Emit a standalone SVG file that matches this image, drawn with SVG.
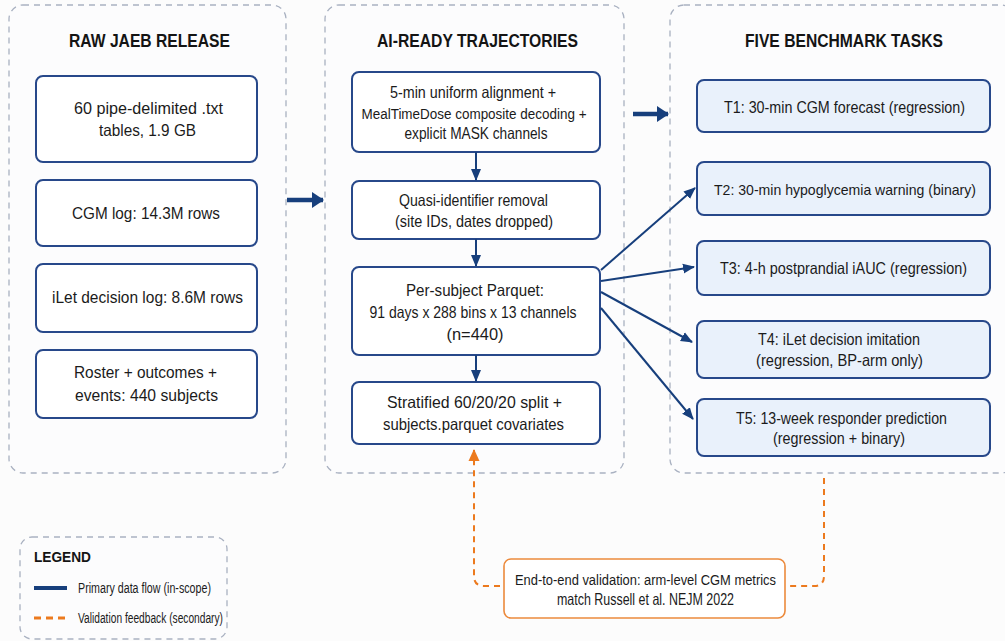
<svg xmlns="http://www.w3.org/2000/svg" width="1005" height="641" viewBox="0 0 1005 641">
<style>
.panel{fill:#fcfcfd;stroke:#a9b1c1;stroke-width:1.3;stroke-dasharray:6 5}
.box{fill:#ffffff;stroke:#27488a;stroke-width:2}
.task{fill:#e9f1fb;stroke:#27488a;stroke-width:2}
.val{fill:#ffffff;stroke:#ec8a3c;stroke-width:1.6}
.t{font-family:"Liberation Sans",Arial,sans-serif;font-size:16.5px;fill:#1b1b1b;text-anchor:middle;dominant-baseline:central}
.h{font-family:"Liberation Sans",Arial,sans-serif;font-size:18.5px;font-weight:bold;fill:#141414;text-anchor:middle;dominant-baseline:central}
.lg{font-family:"Liberation Sans",Arial,sans-serif;font-size:14px;fill:#1b1b1b;dominant-baseline:central}
.flow{fill:none;stroke:#173f7c;stroke-width:2}
.thick{fill:none;stroke:#173f7c;stroke-width:4.5}
.fb{fill:none;stroke:#ec7a1e;stroke-width:2;stroke-dasharray:6 5}
</style>
<defs>
<marker id="ah" markerUnits="userSpaceOnUse" markerWidth="12" markerHeight="12" viewBox="0 0 12 12" refX="11" refY="6" orient="auto"><path d="M0,1 L12,6 L0,11 Z" fill="#173f7c"/></marker>
<marker id="ahB" markerUnits="userSpaceOnUse" markerWidth="12" markerHeight="18" viewBox="0 0 12 18" refX="11" refY="9" orient="auto"><path d="M0,1 L12,9 L0,17 Z" fill="#173f7c"/></marker>
<marker id="ahO" markerUnits="userSpaceOnUse" markerWidth="12" markerHeight="12" viewBox="0 0 12 12" refX="11" refY="6" orient="auto"><path d="M0,0.5 L12,6 L0,11.5 Z" fill="#ec7a1e"/></marker>
</defs>
<rect width="1005" height="641" fill="#fcfcfc"/>

<g id="panel-raw">
<rect class="panel" x="9" y="5" width="277" height="468" rx="14"/>
<text class="h" x="149.5" y="40" textLength="161" lengthAdjust="spacingAndGlyphs">RAW JAEB RELEASE</text>
</g>
<g id="panel-ai">
<rect class="panel" x="325" y="5" width="299" height="468" rx="14"/>
<text class="h" x="477.5" y="40" textLength="201" lengthAdjust="spacingAndGlyphs">AI-READY TRAJECTORIES</text>
</g>
<g id="panel-tasks">
<rect class="panel" x="670" y="5" width="345" height="468" rx="14"/>
<text class="h" x="844" y="40" textLength="198" lengthAdjust="spacingAndGlyphs">FIVE BENCHMARK TASKS</text>
</g>

<g id="raw1"><rect class="box" x="36" y="76" width="221" height="86" rx="7"/><text class="t" x="148.5" y="108" textLength="149" lengthAdjust="spacingAndGlyphs">60 pipe-delimited .txt</text><text class="t" x="147.5" y="130" textLength="97" lengthAdjust="spacingAndGlyphs">tables, 1.9 GB</text></g>
<g id="raw2"><rect class="box" x="36" y="180" width="221" height="66" rx="7"/><text class="t" x="146" y="213" textLength="148" lengthAdjust="spacingAndGlyphs">CGM log: 14.3M rows</text></g>
<g id="raw3"><rect class="box" x="36" y="264" width="221" height="68" rx="7"/><text class="t" x="147.5" y="297" textLength="191" lengthAdjust="spacingAndGlyphs">iLet decision log: 8.6M rows</text></g>
<g id="raw4"><rect class="box" x="36" y="350" width="221" height="68" rx="7"/><text class="t" x="145.5" y="372" textLength="143" lengthAdjust="spacingAndGlyphs">Roster + outcomes +</text><text class="t" x="146.5" y="395" textLength="143" lengthAdjust="spacingAndGlyphs">events: 440 subjects</text></g>

<g id="ai1"><rect class="box" x="352" y="72" width="248" height="80" rx="7"/><text class="t" x="473" y="92" textLength="166" lengthAdjust="spacingAndGlyphs">5-min uniform alignment +</text><text class="t" x="474" y="113" style="font-size:15.5px" textLength="225" lengthAdjust="spacingAndGlyphs">MealTimeDose composite decoding +</text><text class="t" x="476" y="133" textLength="143" lengthAdjust="spacingAndGlyphs">explicit MASK channels</text></g>
<g id="ai2"><rect class="box" x="352" y="181" width="248" height="58" rx="7"/><text class="t" x="473.5" y="200" textLength="149" lengthAdjust="spacingAndGlyphs">Quasi-identifier removal</text><text class="t" x="474" y="221" textLength="158" lengthAdjust="spacingAndGlyphs">(site IDs, dates dropped)</text></g>
<g id="ai3"><rect class="box" x="352" y="267" width="248" height="88" rx="7"/><text class="t" x="475" y="290" textLength="138" lengthAdjust="spacingAndGlyphs">Per-subject Parquet:</text><text class="t" x="473" y="312" textLength="207" lengthAdjust="spacingAndGlyphs">91 days x 288 bins x 13 channels</text><text class="t" x="475" y="334" textLength="57" lengthAdjust="spacingAndGlyphs">(n=440)</text></g>
<g id="ai4"><rect class="box" x="352" y="382" width="248" height="62" rx="7"/><text class="t" x="474.5" y="402" textLength="175" lengthAdjust="spacingAndGlyphs">Stratified 60/20/20 split +</text><text class="t" x="473.5" y="424" textLength="181" lengthAdjust="spacingAndGlyphs">subjects.parquet covariates</text></g>

<g id="t1"><rect class="task" x="697" y="80" width="293" height="52" rx="7"/><text class="t" x="844.5" y="107" textLength="241" lengthAdjust="spacingAndGlyphs">T1: 30-min CGM forecast (regression)</text></g>
<g id="t2"><rect class="task" x="697" y="162" width="293" height="53" rx="7"/><text class="t" x="845" y="189" style="font-size:15px" textLength="262" lengthAdjust="spacingAndGlyphs">T2: 30-min hypoglycemia warning (binary)</text></g>
<g id="t3"><rect class="task" x="697" y="241" width="293" height="54" rx="7"/><text class="t" x="843.5" y="268" textLength="247" lengthAdjust="spacingAndGlyphs">T3: 4-h postprandial iAUC (regression)</text></g>
<g id="t4"><rect class="task" x="697" y="321" width="293" height="57" rx="7"/><text class="t" x="839" y="339" textLength="162" lengthAdjust="spacingAndGlyphs">T4: iLet decision imitation</text><text class="t" x="839.5" y="360" textLength="167" lengthAdjust="spacingAndGlyphs">(regression, BP-arm only)</text></g>
<g id="t5"><rect class="task" x="697" y="399" width="293" height="57" rx="7"/><text class="t" x="841.5" y="418" textLength="211" lengthAdjust="spacingAndGlyphs">T5: 13-week responder prediction</text><text class="t" x="839" y="438" textLength="132" lengthAdjust="spacingAndGlyphs">(regression + binary)</text></g>

<g id="validation"><rect class="val" x="504" y="559" width="281" height="59" rx="7"/><text class="t" x="645.5" y="579" style="font-size:15.5px" textLength="261" lengthAdjust="spacingAndGlyphs">End-to-end validation: arm-level CGM metrics</text><text class="t" x="645.5" y="599" textLength="177" lengthAdjust="spacingAndGlyphs">match Russell et al. NEJM 2022</text></g>

<g id="connectors">
<line class="thick" x1="287" y1="200" x2="323" y2="200" marker-end="url(#ahB)"/>
<line class="thick" x1="633" y1="114" x2="668" y2="114" marker-end="url(#ahB)"/>
<line class="flow" x1="476" y1="152" x2="476" y2="180" marker-end="url(#ah)"/>
<line class="flow" x1="476" y1="239" x2="476" y2="266" marker-end="url(#ah)"/>
<line class="flow" x1="476" y1="355" x2="476" y2="381" marker-end="url(#ah)"/>
<line class="flow" x1="601" y1="270" x2="695" y2="188" marker-end="url(#ah)"/>
<line class="flow" x1="601" y1="281" x2="694" y2="267" marker-end="url(#ah)"/>
<line class="flow" x1="601" y1="292" x2="692" y2="342" marker-end="url(#ah)"/>
<line class="flow" x1="601" y1="308" x2="693" y2="419" marker-end="url(#ah)"/>
<path class="fb" d="M500,586 L484,586 Q474,586 474,576 L474,450" marker-end="url(#ahO)"/>
<path class="fb" d="M824,478 L824,576 Q824,586 814,586 L790,586"/>
</g>

<g id="legend">
<rect class="panel" x="20" y="537" width="207" height="102" rx="12"/>
<text class="h" x="62.5" y="556" style="font-size:15px" textLength="57" lengthAdjust="spacingAndGlyphs">LEGEND</text>
<line x1="34" y1="588" x2="67" y2="588" stroke="#173f7c" stroke-width="4"/>
<text class="lg" x="78" y="588" textLength="133" lengthAdjust="spacingAndGlyphs">Primary data flow (in-scope)</text>
<line x1="34" y1="618" x2="67" y2="618" stroke="#ec7a1e" stroke-width="3" stroke-dasharray="7 5"/>
<text class="lg" x="78" y="618" textLength="145" lengthAdjust="spacingAndGlyphs">Validation feedback (secondary)</text>
</g>
</svg>
